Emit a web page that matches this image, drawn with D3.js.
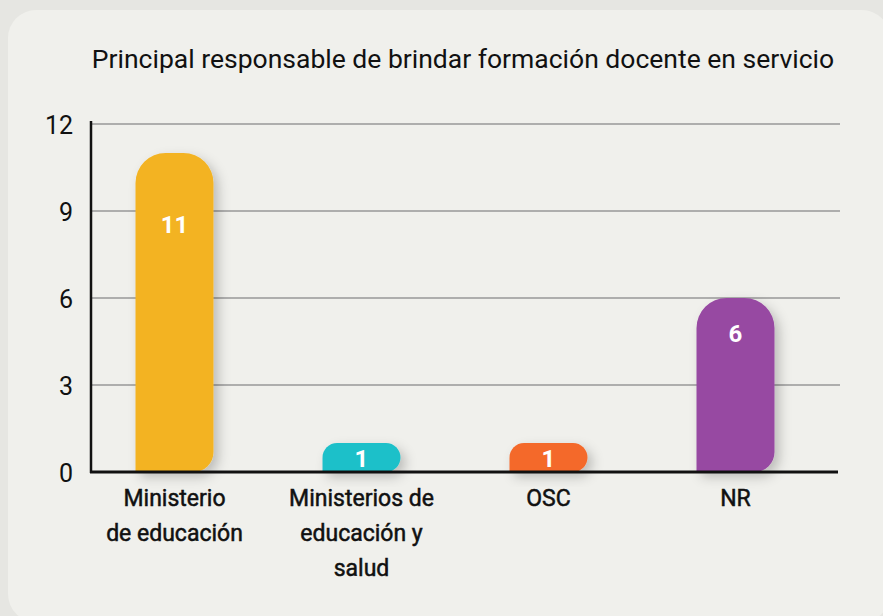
<!DOCTYPE html>
<meta charset="utf-8">
<head>
<title>Formación docente</title>
<style>
body {
    margin: 0;
    background-color: #e6e6e2;
}
svg text {
    font-family: 'Roboto', 'Noto Sans', sans-serif;
}
.grid line {
    stroke: #999;
    stroke-width: 1.5px;
}
.tick-label {
    font-size: 25px;
    fill: #111;
}
.cat-label {
    font-size: 23px;
    font-weight: 400;
    fill: #111;
    stroke: #111;
    stroke-width: 0.5px;
}
.val-label {
    font-size: 24px;
    font-weight: 700;
    fill: #fff;
}
</style>
</head>
<body>
<script src="https://cdn.jsdelivr.net/npm/d3@7"></script>
<script>

var categories = ["Ministerio de educación", "Ministerios de educación y salud", "OSC", "NR"];
var catLines = [["Ministerio", "de educación"], ["Ministerios de", "educación y", "salud"], ["OSC"], ["NR"]];
var values = [11, 1, 1, 6];
var colors = ["#f3b323", "#1fc0c9", "#f4692a", "#974aa2"];
var yTicks = [0, 3, 6, 9, 12];
var title = "Principal responsable de brindar formación docente en servicio";

var width = 883, height = 616;
var axisX = 91, axisRight = 840, y0 = 472, y12 = 124;

var svg = d3.select("body").append("svg")
    .attr("width", width)
    .attr("height", height);

// drop shadow for the bars
var defs = svg.append("defs");
var f = defs.append("filter").attr("id", "shadow")
    .attr("x", "-50%").attr("y", "-50%").attr("width", "200%").attr("height", "200%");
f.append("feDropShadow")
    .attr("dx", 5).attr("dy", 5)
    .attr("stdDeviation", 6)
    .attr("flood-color", "#000")
    .attr("flood-opacity", 0.22);

// card
svg.append("rect")
    .attr("x", 8).attr("y", 10)
    .attr("width", 882).attr("height", 612)
    .attr("rx", 28)
    .attr("fill", "#f0f0ec");

svg.append("text")
    .attr("x", 463).attr("y", 68)
    .attr("text-anchor", "middle")
    .attr("font-size", 26.5)
    .attr("fill", "#111")
    .text(title);

var y = d3.scaleLinear().domain([0, 12]).range([y0, y12]);
var x = d3.scaleBand().domain(categories).range([81, 829]).paddingInner(0.583).paddingOuter(0.2915);

// gridlines
svg.append("g").attr("class", "grid")
    .selectAll("line")
    .data(yTicks.filter(function(d){return d > 0;}))
    .enter().append("line")
    .attr("x1", axisX).attr("x2", axisRight)
    .attr("y1", function(d){return y(d);})
    .attr("y2", function(d){return y(d);});

// tick labels
svg.append("g")
    .selectAll("text")
    .data(yTicks)
    .enter().append("text")
    .attr("class", "tick-label")
    .attr("x", 73)
    .attr("y", function(d){return y(d) + 10;})
    .attr("text-anchor", "end")
    .text(function(d){return d;});

function barPath(d, i) {
    var x0 = x(categories[i]), w = x.bandwidth();
    var top = y(d), bot = y(0), h = bot - top;
    var rt = Math.min(30, h / 2, w / 2), rb = Math.min(20, h / 2);
    return "M" + x0 + "," + bot +
        "L" + x0 + "," + (top + rt) +
        "A" + rt + "," + rt + " 0 0 1 " + (x0 + rt) + "," + top +
        "L" + (x0 + w - rt) + "," + top +
        "A" + rt + "," + rt + " 0 0 1 " + (x0 + w) + "," + (top + rt) +
        "L" + (x0 + w) + "," + (bot - rb) +
        "A" + rb + "," + rb + " 0 0 1 " + (x0 + w - rb) + "," + bot + "Z";
}

svg.append("g")
    .selectAll("path")
    .data(values)
    .enter().append("path")
    .attr("d", barPath)
    .attr("fill", function(d, i){return colors[i];})
    .attr("filter", "url(#shadow)");

// axes lines
svg.append("line")
    .attr("x1", axisX).attr("x2", axisX)
    .attr("y1", 121).attr("y2", y0 + 1)
    .attr("stroke", "#111").attr("stroke-width", 2.5);
svg.append("line")
    .attr("x1", axisX - 1).attr("x2", 838)
    .attr("y1", y0).attr("y2", y0)
    .attr("stroke", "#111").attr("stroke-width", 3);

// value labels
svg.append("g")
    .selectAll("text")
    .data(values)
    .enter().append("text")
    .attr("class", "val-label")
    .attr("x", function(d, i){return x(categories[i]) + x.bandwidth() / 2;})
    .attr("y", function(d){return Math.max(y(d) + 24, y(d * 0.75));})
    .attr("text-anchor", "middle")
    .text(function(d){return d;});

// category labels
var cat = svg.append("g")
    .selectAll("text")
    .data(catLines)
    .enter().append("text")
    .attr("class", "cat-label")
    .attr("text-anchor", "middle")
    .attr("y", 506);
cat.selectAll("tspan")
    .data(function(d, i){return d.map(function(t){return {t: t, i: i};});})
    .enter().append("tspan")
    .attr("x", function(d){return x(categories[d.i]) + x.bandwidth() / 2;})
    .attr("dy", function(d, j){return j === 0 ? 0 : 35;})
    .text(function(d){return d.t;});

</script>
</body>
